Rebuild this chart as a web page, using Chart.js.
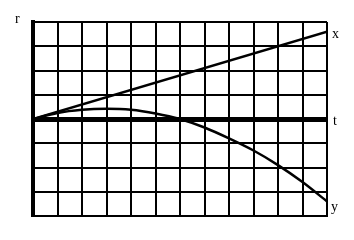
<!DOCTYPE html>
<html>
<head>
<meta charset="utf-8">
<script src="https://cdn.jsdelivr.net/npm/chart.js@4.4.0/dist/chart.umd.min.js"></script>
<style>
  html, body { margin: 0; padding: 0; background: #fff; }
  #wrap { width: 354px; height: 240px; }
</style>
</head>
<body>
<div id="wrap"><canvas id="plot"></canvas></div>
<script>
// values
var t_values = [0, 1, 2, 3, 4, 5, 6, 7, 8, 9, 10, 11, 12];
var y_values = [0, 0.25, 0.38, 0.42, 0.38, 0.23, 0, -0.35, -0.8, -1.3, -1.9, -2.6, -3.4];
var x_t = [0, 12];
var x_values = [0, 3.6];
var axis_labels = { vertical: 'r', horizontal: 't' };
var curve_labels = ['x', 'y'];

function pairs(ts, vs) {
  return ts.map(function (t, i) { return { x: t, y: vs[i] }; });
}

// draws the letters next to the axes and line ends
var letters = {
  id: 'letters',
  afterDraw: function (chart) {
    var ctx = chart.ctx;
    var sx = chart.scales.x, sy = chart.scales.y;
    ctx.save();
    ctx.fillStyle = '#000';
    ctx.font = '14px "Liberation Serif"';
    ctx.textBaseline = 'middle';
    ctx.textAlign = 'left';
    ctx.fillText(axis_labels.vertical, sx.getPixelForValue(0) - 18, sy.getPixelForValue(4) - 3);
    ctx.fillText(axis_labels.horizontal, sx.getPixelForValue(12) + 6, sy.getPixelForValue(0) + 2);
    var xe = x_values[x_values.length - 1];
    ctx.fillText(curve_labels[0], sx.getPixelForValue(12) + 5, sy.getPixelForValue(xe) + 3);
    var ye = y_values[y_values.length - 1];
    ctx.fillText(curve_labels[1], sx.getPixelForValue(12) + 4, sy.getPixelForValue(ye) + 6);
    ctx.restore();
  }
};

new Chart(document.getElementById('plot'), {
  type: 'scatter',
  data: {
    datasets: [
      {
        label: 'x',
        data: pairs(x_t, x_values),
        showLine: true,
        borderColor: '#000',
        borderWidth: 2.5,
        pointRadius: 0,
        tension: 0
      },
      {
        label: 'y',
        data: pairs(t_values, y_values),
        showLine: true,
        borderColor: '#000',
        borderWidth: 2.5,
        pointRadius: 0,
        cubicInterpolationMode: 'monotone'
      }
    ]
  },
  options: {
    responsive: true,
    maintainAspectRatio: false,
    animation: false,
    events: [],
    layout: { padding: { left: 33, right: 27, top: 22, bottom: 24 } },
    plugins: { legend: { display: false }, tooltip: { enabled: false } },
    scales: {
      x: {
        type: 'linear',
        min: 0, max: 12,
        ticks: { display: false, stepSize: 1 },
        grid: { color: '#000', lineWidth: 2, drawTicks: false },
        border: { display: true, color: '#000', width: 2 }
      },
      y: {
        type: 'linear',
        min: -4, max: 4,
        ticks: { display: false, stepSize: 1 },
        grid: {
          color: '#000',
          drawTicks: false,
          lineWidth: function (c) { return c.tick && c.tick.value === 0 ? 5 : 2; }
        },
        border: { display: true, color: '#000', width: 4 }
      }
    }
  },
  plugins: [letters]
});
</script>
</body>
</html>
